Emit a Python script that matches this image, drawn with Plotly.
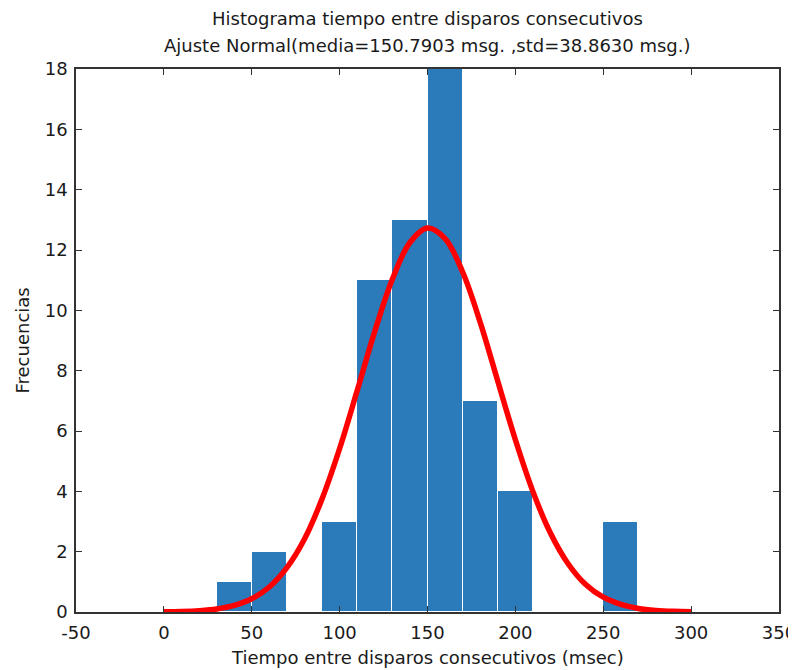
import plotly.graph_objects as go

# Histogram data (bin centers, counts), bin width 20
bin_centers = [40, 60, 100, 120, 140, 160, 180, 200, 260]
counts = [1, 2, 3, 11, 13, 18, 7, 4, 3]
bin_width = 20

# Normal fit curve
curve_x = [0, 10, 20, 30, 40, 50, 60, 70, 80, 90, 100, 110, 120, 130, 140, 150,
           160, 170, 180, 190, 200, 210, 220, 230, 240, 250, 260, 270, 280, 290, 300]
curve_y = [0.007, 0.018, 0.044, 0.10, 0.22, 0.44, 0.83, 1.47, 2.42, 3.75, 5.42,
           7.34, 9.30, 11.03, 12.25, 12.73, 12.38, 11.27, 9.60, 7.65, 5.71, 3.99,
           2.61, 1.60, 0.91, 0.49, 0.25, 0.115, 0.051, 0.021, 0.008]

x_ticks = [-50, 0, 50, 100, 150, 200, 250, 300, 350]
x_tick_labels = ["-50", "0", "50", "100", "150", "200", "250", "300", "350"]
y_ticks = [0, 2, 4, 6, 8, 10, 12, 14, 16, 18]

title_line1 = "Histograma tiempo entre disparos consecutivos"
title_line2 = "Ajuste Normal(media=150.7903 msg. ,std=38.8630 msg.)"
x_title = "Tiempo entre disparos consecutivos (msec)"
y_title = "Frecuencias"

FONT = "DejaVu Sans, Liberation Sans, Arial, sans-serif"
TXT = "#1a1a1a"

fig = go.Figure()
fig.add_trace(go.Bar(
    x=bin_centers, y=counts, width=bin_width,
    marker=dict(color="#2B7BBA", line=dict(color="white", width=1)),
    showlegend=False,
))
fig.add_trace(go.Scatter(
    x=curve_x, y=curve_y, mode="lines",
    line=dict(color="#FF0000", width=5.5, shape="spline"),
    showlegend=False,
))

axis_common = dict(
    showgrid=False, zeroline=False, showline=True, linecolor="#333333",
    linewidth=1.5, mirror="allticks", ticks="inside", ticklen=6,
    tickcolor="#333333", tickfont=dict(family=FONT, size=18, color=TXT),
    automargin=False, ticklabeloverflow="allow",
)

# The page body adds an 8px offset, so the figure is 8px smaller.
fig.update_layout(
    width=788, height=662,
    paper_bgcolor="white", plot_bgcolor="white",
    margin=dict(l=68, r=17, t=61, b=58),
    bargap=0,
    font=dict(family=FONT, size=18, color=TXT),
    xaxis=dict(range=[-50, 350], tickvals=x_ticks, ticktext=x_tick_labels,
               ticklabelstandoff=4, **axis_common),
    yaxis=dict(range=[0, 18], tickvals=y_ticks, ticklabelstandoff=3,
               **axis_common),
    annotations=[
        dict(text=title_line1, xref="paper", yref="paper", x=0.5, y=1,
             yshift=51, showarrow=False, xanchor="center", yanchor="middle",
             font=dict(family=FONT, size=18, color=TXT)),
        dict(text=title_line2, xref="paper", yref="paper", x=0.5, y=1,
             yshift=24, showarrow=False, xanchor="center", yanchor="middle",
             font=dict(family=FONT, size=18, color=TXT)),
        dict(text=x_title, xref="paper", yref="paper", x=0.5, y=0,
             yshift=-45, showarrow=False, xanchor="center", yanchor="middle",
             font=dict(family=FONT, size=18, color=TXT)),
        dict(text=y_title, xref="paper", yref="paper", x=0, y=0.5,
             xshift=-54, showarrow=False, xanchor="center", yanchor="middle",
             textangle=-90, font=dict(family=FONT, size=18, color=TXT)),
    ],
)

fig.write_html("out.html")
